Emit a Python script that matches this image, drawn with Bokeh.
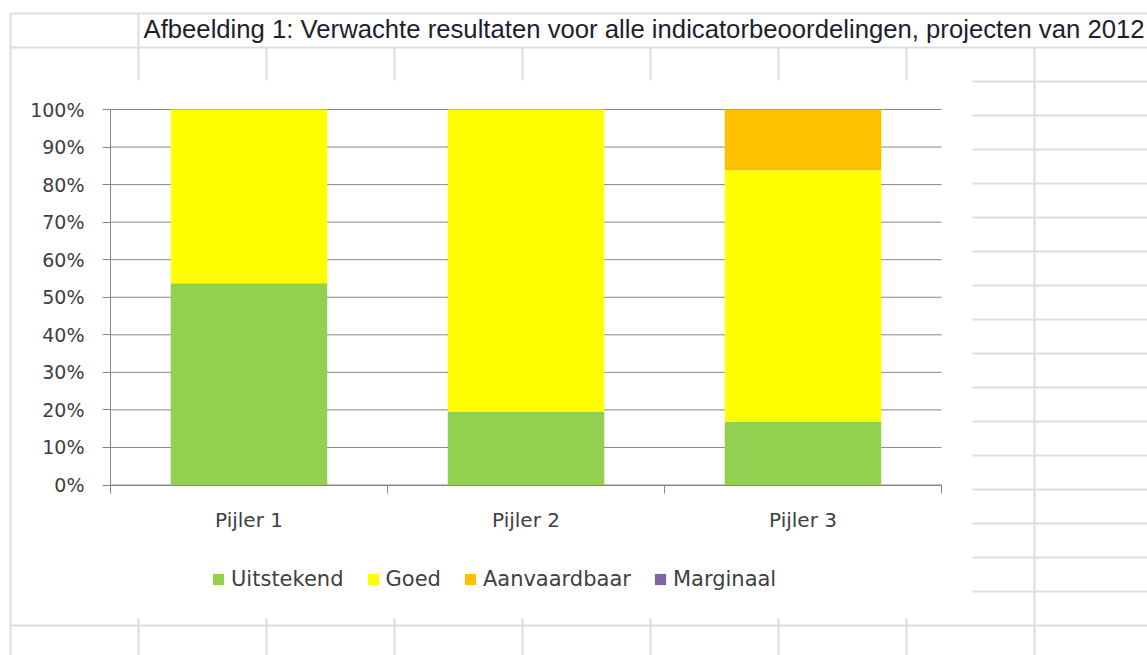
from bokeh.plotting import figure
from bokeh.models import (ColumnDataSource, Range1d, FixedTicker, NumeralTickFormatter,
                          Legend, LegendItem, Label, LinearAxis)
from bokeh.embed import file_html
from bokeh.resources import INLINE

# ---------------- data ----------------
title_text = "Afbeelding 1: Verwachte resultaten voor alle indicatorbeoordelingen, projecten van 2012"
categories = ["Pijler 1", "Pijler 2", "Pijler 3"]
series_names = ["Uitstekend", "Goed", "Aanvaardbaar", "Marginaal"]
uitstekend = [0.537, 0.196, 0.168]
goed = [0.463, 0.804, 0.670]
aanvaardbaar = [0.0, 0.0, 0.162]
marginaal = [0.0, 0.0, 0.0]
series_colors = ["#92D050", "#FFFF00", "#FFC000", "#8064A2"]
y_ticks = [0.0, 0.1, 0.2, 0.3, 0.4, 0.5, 0.6, 0.7, 0.8, 0.9, 1.0]

# ---------------- layout constants (pixels) ----------------
W, H = 1147, 655
PLOT_L, PLOT_R = 110, 941        # plot area left/right
PLOT_T, PLOT_B = 109, 484.5      # 100% / 0% lines
TEXT = "#404040"
AXIS = "#868686"
FONT = "DejaVu Sans"
GRID = "#dddddd"

n = len(categories)
px_per_cat = (PLOT_R - PLOT_L) / n
px_per_unit = (PLOT_B - PLOT_T) / 1.0

# the frame is the whole canvas; default ranges are page pixels (y down),
# the chart itself uses the "bars" ranges
p = figure(width=W, height=H, output_backend="svg", toolbar_location=None,
           x_range=Range1d(0, W), y_range=Range1d(H, 0),
           x_axis_type=None, y_axis_type=None, min_border=0)
p.extra_x_ranges = {"bars": Range1d(-PLOT_L / px_per_cat, n + (W - PLOT_R) / px_per_cat)}
p.extra_y_ranges = {"bars": Range1d(-(H - PLOT_B) / px_per_unit, PLOT_B / px_per_unit)}
p.background_fill_color = "white"
p.border_fill_color = "white"
p.outline_line_color = None
p.xgrid.visible = False
p.ygrid.visible = False

# ---------------- spreadsheet grid (decoration) ----------------
cols = [10 + 128 * k for k in range(9)]
rows = [13 + 34 * k for k in range(19)]
CH_L, CH_R, CH_T, CH_B = 11, 972, 80, 618   # embedded chart object
gx0, gy0, gx1, gy1 = [], [], [], []
def seg(a, b, c, d):
    gx0.append(a); gy0.append(b); gx1.append(c); gy1.append(d)
for y in (rows[0], rows[1], rows[-1]):
    seg(cols[0], y, W, y)
for y in rows[2:-1]:
    seg(CH_R, y, W, y)
seg(cols[0], rows[0], cols[0], H)
seg(cols[1], rows[0], cols[1], CH_T)
seg(cols[1], CH_B, cols[1], H)
for x in cols[2:-1]:
    seg(x, rows[1], x, CH_T)
    seg(x, CH_B, x, H)
seg(cols[-1], rows[1], cols[-1], H)
p.segment(x0=gx0, y0=gy0, x1=gx1, y1=gy1, line_color=GRID, line_width=2)

# title text in the spreadsheet cell
p.add_layout(Label(x=143, y=28, text=title_text,
                   text_font="Liberation Sans", text_font_size="25.7px",
                   text_baseline="alphabetic", text_color="#1e1e2e"))

# ---------------- chart ----------------
x_centers = [i + 0.5 for i in range(n)]
x_bounds = [float(i) for i in range(n + 1)]

# horizontal gridlines
p.segment(x0=[0.0] * len(y_ticks), x1=[float(n)] * len(y_ticks), y0=y_ticks, y1=y_ticks,
          line_color=AXIS, line_width=1, x_range_name="bars", y_range_name="bars")

source = ColumnDataSource(data=dict(x=x_centers, Uitstekend=uitstekend, Goed=goed,
                                    Aanvaardbaar=aanvaardbaar, Marginaal=marginaal))
renderers = p.vbar_stack(series_names, x="x", width=0.565, source=source,
                         fill_color=series_colors, line_color=None,
                         x_range_name="bars", y_range_name="bars")

yaxis = LinearAxis(x_range_name="bars", y_range_name="bars", fixed_location=0, bounds=(0, 1),
                   ticker=FixedTicker(ticks=y_ticks),
                   formatter=NumeralTickFormatter(format="0%"))
yaxis.axis_line_color = AXIS
yaxis.major_tick_line_color = AXIS
yaxis.major_tick_out = 8
yaxis.major_tick_in = 0
yaxis.minor_tick_line_color = None
yaxis.major_label_standoff = 18
yaxis.major_label_text_font = FONT
yaxis.major_label_text_font_size = "19px"
yaxis.major_label_text_color = TEXT
p.add_layout(yaxis, "left")

xaxis = LinearAxis(x_range_name="bars", y_range_name="bars", fixed_location=0, bounds=(0, n),
                   ticker=FixedTicker(ticks=x_centers, minor_ticks=x_bounds))
xaxis.major_label_overrides = {x: c for x, c in zip(x_centers, categories)}
xaxis.axis_line_color = AXIS
xaxis.major_tick_line_color = None
xaxis.major_tick_out = 0
xaxis.major_tick_in = 0
xaxis.minor_tick_line_color = AXIS
xaxis.minor_tick_out = 8
xaxis.minor_tick_in = 0
xaxis.major_label_standoff = 15
xaxis.major_label_text_font = FONT
xaxis.major_label_text_font_size = "20px"
xaxis.major_label_text_color = TEXT
p.add_layout(xaxis, "below")

# legend (location = bottom-left of legend box, measured from frame bottom-left)
legend = Legend(items=[LegendItem(label=s, renderers=[r]) for s, r in zip(series_names, renderers)],
                orientation="horizontal", location=(211, H - 591),
                glyph_width=14, glyph_height=14, label_standoff=6, spacing=22,
                padding=0, margin=0, border_line_color=None, background_fill_alpha=0,
                label_text_font=FONT, label_text_font_size="21px", label_text_color=TEXT)
p.add_layout(legend)

open("out.html", "w").write(file_html(p, INLINE))
